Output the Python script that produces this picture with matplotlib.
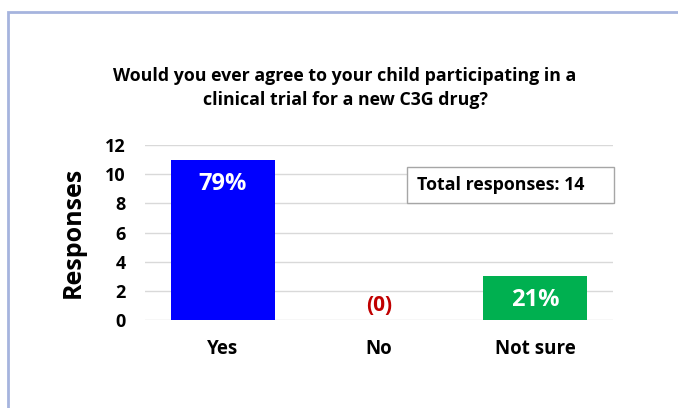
import matplotlib.pyplot as plt
from matplotlib.patches import Rectangle

categories = ['Yes', 'No', 'Not sure']
responses = [11, 0, 3]
bar_labels = ['79%', '(0)', '21%']
bar_colors = ['#0000FF', '#FFFFFF', '#00B050']
label_colors = ['white', '#C00000', 'white']
total = 14

plt.rcParams['font.family'] = ['Open Sans', 'DejaVu Sans']
plt.rcParams['font.weight'] = 'bold'

fig = plt.figure(figsize=(6.78, 4.08), dpi=100)
W, H = 678, 408

# outer chart border (runs off the right and bottom edge)
fig.patches.append(Rectangle((8 / W, -0.1), 1.2, (H - 12) / H + 0.1,
                             transform=fig.transFigure, fill=False,
                             edgecolor='#A6B4DE', linewidth=2))

ax = fig.add_axes([145 / W, (H - 320) / H, 468 / W, 175 / H])
x = range(len(categories))
ax.bar(x, responses, width=0.667, color=bar_colors, zorder=2)
ax.set_xlim(-0.5, 2.5)
ax.set_ylim(0, 12)
ax.set_yticks(range(0, 13, 2))
ax.set_xticks(list(x))
ax.set_xticklabels(categories, fontsize=13.5, fontweight='bold')
ax.tick_params(axis='y', labelsize=13, length=0, pad=14)
ax.tick_params(axis='x', length=0, pad=14)
for lab in ax.get_yticklabels():
    lab.set_fontweight('bold')
ax.grid(axis='y', color='#D9D9D9', linewidth=1, zorder=0)
for s in ax.spines.values():
    s.set_visible(False)
ax.set_ylabel('Responses', fontsize=18, fontweight='bold', labelpad=14)

for i, (v, t) in enumerate(zip(responses, bar_labels)):
    if v > 0:
        ax.text(i, v - 1.65, t, ha='center', va='center', color=label_colors[i],
                fontsize=17, fontweight='bold', zorder=3)
    else:
        ax.text(i, 1.0, t, ha='center', va='center', color=label_colors[i],
                fontsize=15, fontweight='bold', zorder=3)

fig.text(345 / W, (H - 76) / H, 'Would you ever agree to your child participating in a',
         ha='center', va='center', fontsize=12.8, fontweight='bold')
fig.text(345 / W, (H - 100) / H, 'clinical trial for a new C3G drug?',
         ha='center', va='center', fontsize=12.8, fontweight='bold')

fig.patches.append(Rectangle((407 / W, (H - 203) / H), 207 / W, 36 / H,
                             transform=fig.transFigure, facecolor='white',
                             edgecolor='#A6A6A6', linewidth=1, zorder=5))
fig.text(417 / W, (H - 185) / H, 'Total responses: %d' % total,
         ha='left', va='center', fontsize=12.8, fontweight='bold', zorder=6)

fig.savefig('out.png', dpi=100)
